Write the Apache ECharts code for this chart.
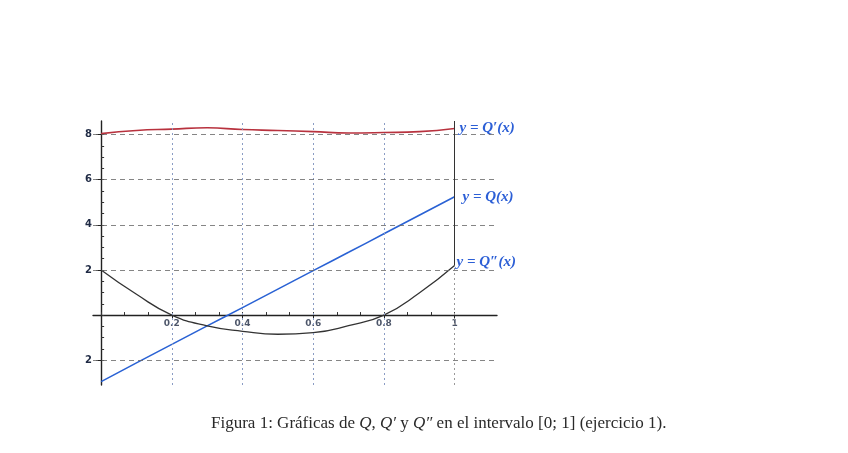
<!DOCTYPE html>
<html>
<head>
<meta charset="utf-8">
<script src="https://cdn.jsdelivr.net/npm/echarts@6/dist/echarts.min.js"></script>
<style>html,body{margin:0;padding:0;background:#fff}#c{width:848px;height:453px}</style>
</head>
<body>
<div id="c"></div>
<script>
// ---- data ----
const xValues = [0, 0.1, 0.2, 0.3, 0.4, 0.5, 0.6, 0.7, 0.8, 0.9, 1.0];
const qPrime  = [8.04, 8.18, 8.24, 8.30, 8.22, 8.18, 8.13, 8.07, 8.09, 8.13, 8.27];
const qValues = [-2.95, -2.12, -1.30, -0.48, 0.33, 1.15, 1.97, 2.78, 3.60, 4.42, 5.24];
const qSecond = [2.00, 0.92, 0.00, -0.48, -0.72, -0.85, -0.78, -0.47, 0.00, 0.98, 2.20];

const xTickValues = [0.2, 0.4, 0.6, 0.8, 1];
const xTickLabels = ['0.2', '0.4', '0.6', '0.8', '1'];
const yTickValues = [-2, 2, 4, 6, 8];
const yTickLabels = ['2', '2', '4', '6', '8'];
const seriesNames = ['y = Q′(x)', 'y = Q(x)', 'y = Q″(x)'];
const caption = 'Figura 1: Gráficas de {i|Q}, {i|Q′} y {i|Q″} en el intervalo [0; 1] (ejercicio 1).';

const X_MIN = -0.023, X_MAX = 1.12, Y_MIN = -3.1, Y_MAX = 8.6;

function pairs(ys) { return xValues.map((x, i) => [x, ys[i]]); }
function minorsBetween(vals, n) {
  const out = [];
  for (let i = 0; i < vals.length - 1; i++) {
    const a = vals[i], b = vals[i + 1];
    for (let k = 1; k < n; k++) out.push(+(a + (b - a) * k / n).toFixed(4));
  }
  return out;
}
const xAllTicks = [0].concat(xTickValues);
const yAllTicks = [-2, 0, 2, 4, 6, 8];
const xMinor = minorsBetween(xAllTicks, 3).concat(xAllTicks);
const yMinor = minorsBetween(yAllTicks, 4).concat(yAllTicks);

const chart = echarts.init(document.getElementById('c'), null, {renderer: 'canvas'});

const labelStyle = {
  color: '#2c5fd6', fontFamily: 'Liberation Serif', fontStyle: 'italic',
  fontSize: 15, fontWeight: 'bold'
};

const gridLinesV = xTickValues.slice(0, 4).map(v => ({xAxis: v}));
const gridLinesH = yTickValues.map(v => ({yAxis: v}));

const option = {
  backgroundColor: '#ffffff',
  animation: false,
  title: {
    text: caption,
    left: 206, top: 410,
    textStyle: {
      fontFamily: 'Liberation Serif', fontSize: 17, fontWeight: 'normal', color: '#2a2a2a',
      rich: { i: {fontFamily: 'Liberation Serif', fontStyle: 'italic', fontSize: 17, color: '#2a2a2a'} }
    }
  },
  grid: {left: 93, right: 351, top: 121, bottom: 68, containLabel: false},
  xAxis: [{
    type: 'value', min: X_MIN, max: X_MAX,
    axisLine: {show: true, onZero: true, lineStyle: {color: '#222', width: 1.4}},
    axisTick: {show: true, customValues: xTickValues, length: 4, lineStyle: {color: '#222'}},
    axisLabel: {show: false},
    splitLine: {show: false}
  }, {
    type: 'value', min: X_MIN, max: X_MAX, position: 'bottom',
    axisLine: {show: false, onZero: true},
    axisTick: {show: true, inside: true, customValues: xMinor, length: 3, lineStyle: {color: '#333'}},
    axisLabel: {show: false},
    splitLine: {show: false}
  }],
  yAxis: [{
    type: 'value', min: Y_MIN, max: Y_MAX,
    axisLine: {show: true, onZero: true, lineStyle: {color: '#222', width: 1.4}},
    axisTick: {show: true, customValues: yTickValues, length: 5, lineStyle: {color: '#222'}},
    axisLabel: {
      show: true, customValues: yTickValues, margin: 1,
      formatter: v => { const i = yTickValues.findIndex(t => Math.abs(t - v) < 1e-6); return i >= 0 ? yTickLabels[i] : ''; },
      color: '#1f2a44', fontFamily: 'DejaVu Sans', fontSize: 10, fontWeight: 'bold'
    },
    splitLine: {show: false}
  }, {
    type: 'value', min: Y_MIN, max: Y_MAX, position: 'left',
    axisLine: {show: false, onZero: true},
    axisTick: {show: true, inside: true, customValues: yMinor, length: 3, lineStyle: {color: '#333'}},
    axisLabel: {show: false},
    splitLine: {show: false}
  }],
  series: [
    {
      type: 'line', name: 'grid', data: [], xAxisIndex: 0, yAxisIndex: 0, silent: true,
      markLine: {
        silent: true, symbol: 'none', label: {show: false}, animation: false,
        data: gridLinesV.map(d => Object.assign({}, d, {lineStyle: {type: [2, 3], color: '#8a9cc4', width: 1}}))
          .concat(gridLinesH.map(d => Object.assign({}, d, {lineStyle: {type: [5, 4], color: '#666', width: 1, opacity: 0.8}})))
          .concat([{xAxis: 1, lineStyle: {type: [2, 3], color: '#999', width: 1}}])
          .concat([[{coord: [1, 2.2], lineStyle: {type: 'solid', color: '#333', width: 1}}, {coord: [1, Y_MAX]}]])
      }
    },
    {
      type: 'scatter', name: 'xlabels', silent: true,
      data: xTickValues.map((v, i) => ({value: [v, 0], label: {formatter: xTickLabels[i]}})),
      symbolSize: 0,
      label: {show: true, position: 'bottom', distance: 4,
        color: '#1f2a44', fontFamily: 'DejaVu Sans', fontSize: 9, fontWeight: 'bold'}
    },
    {
      type: 'line', name: seriesNames[0], data: pairs(qPrime), smooth: true, showSymbol: false,
      lineStyle: {color: '#b8323e', width: 1.6},
      endLabel: {show: true, formatter: seriesNames[0], distance: 5, ...labelStyle}
    },
    {
      type: 'line', name: seriesNames[1], data: pairs(qValues), smooth: true, showSymbol: false,
      lineStyle: {color: '#2a62d4', width: 1.6},
      endLabel: {show: true, formatter: seriesNames[1], distance: 8, ...labelStyle}
    },
    {
      type: 'line', name: seriesNames[2], data: pairs(qSecond), smooth: true, showSymbol: false,
      lineStyle: {color: '#333', width: 1.3},
      endLabel: {show: true, formatter: seriesNames[2], distance: 2, offset: [0, -3], ...labelStyle}
    }
  ]
};
chart.setOption(option);
</script>
</body>
</html>
